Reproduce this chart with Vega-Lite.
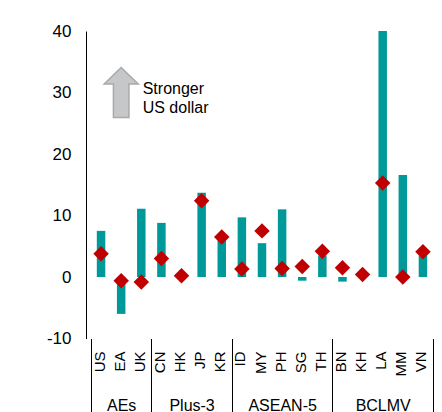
{
  "$schema": "https://vega.github.io/schema/vega-lite/v6.json",
  "width": 352,
  "height": 307.5,
  "autosize": {"type": "none"},
  "padding": {"left": 86, "top": 31, "right": 4, "bottom": 73.5},
  "background": "white",
  "config": {
    "view": {"stroke": null},
    "axis": {"grid": false, "labelFont": "Liberation Sans", "labelColor": "#000"},
    "text": {"font": "Liberation Sans"}
  },
  "datasets": {
    "fx": [
      {"code": "US", "group": "AEs", "i": 0, "bar": 7.5, "dia": 3.8},
      {"code": "EA", "group": "AEs", "i": 1, "bar": -6.0, "dia": -0.6},
      {"code": "UK", "group": "AEs", "i": 2, "bar": 11.1, "dia": -0.8},
      {"code": "CN", "group": "Plus-3", "i": 3, "bar": 8.8, "dia": 3.0},
      {"code": "HK", "group": "Plus-3", "i": 4, "bar": 0.0, "dia": 0.2},
      {"code": "JP", "group": "Plus-3", "i": 5, "bar": 13.7, "dia": 12.4},
      {"code": "KR", "group": "Plus-3", "i": 6, "bar": 6.0, "dia": 6.5},
      {"code": "ID", "group": "ASEAN-5", "i": 7, "bar": 9.7, "dia": 1.3},
      {"code": "MY", "group": "ASEAN-5", "i": 8, "bar": 5.5, "dia": 7.5},
      {"code": "PH", "group": "ASEAN-5", "i": 9, "bar": 11.0, "dia": 1.4},
      {"code": "SG", "group": "ASEAN-5", "i": 10, "bar": -0.6, "dia": 1.7},
      {"code": "TH", "group": "ASEAN-5", "i": 11, "bar": 3.5, "dia": 4.2},
      {"code": "BN", "group": "BCLMV", "i": 12, "bar": -0.75, "dia": 1.5},
      {"code": "KH", "group": "BCLMV", "i": 13, "bar": 0.0, "dia": 0.4},
      {"code": "LA", "group": "BCLMV", "i": 14, "bar": 40.0, "dia": 15.3},
      {"code": "MM", "group": "BCLMV", "i": 15, "bar": 16.6, "dia": 0.0},
      {"code": "VN", "group": "BCLMV", "i": 16, "bar": 3.5, "dia": 4.1}
    ],
    "note": [
      {"x": 1, "y": 30, "tx": 2.07, "ty": 29.8, "label": ["Stronger", "US dollar"]}
    ]
  },
  "layer": [
    {
      "data": {"name": "fx"},
      "mark": {"type": "bar", "size": 8.5, "color": "#009999"},
      "encoding": {
        "x": {
          "field": "i", "type": "quantitative",
          "scale": {"domain": [-0.5, 16.5], "nice": false, "zero": false},
          "axis": {
            "orient": "bottom", "title": null, "values": [0,1,2,3,4,5,6,7,8,9,10,11,12,13,14,15,16],
            "labelExpr": "['US','EA','UK','CN','HK','JP','KR','ID','MY','PH','SG','TH','BN','KH','LA','MM','VN'][datum.value]",
            "labelAngle": -90, "labelAlign": "right", "labelBaseline": "middle",
            "labelPadding": 12.5, "labelOffset": -2, "labelFontSize": 15,
            "ticks": false, "domain": false, "labelFlush": false, "labelOverlap": false, "labelBound": false
          }
        },
        "y": {
          "field": "bar", "type": "quantitative",
          "scale": {"domain": [-10, 40], "nice": false, "zero": false},
          "axis": {
            "title": null, "values": [-10, 0, 10, 20, 30, 40], "ticks": false,
            "labelExpr": "'' + datum.value",
            "domain": true, "domainColor": "#000", "domainWidth": 1,
            "labelPadding": 15, "labelFontSize": 17, "labelOverlap": false
          }
        }
      }
    },
    {
      "mark": {"type": "rule", "color": "#000", "strokeWidth": 1},
      "encoding": {
        "y": {"datum": 0, "type": "quantitative", "axis": null}
      }
    },
    {
      "data": {"name": "fx"},
      "mark": {"type": "point", "shape": "diamond", "filled": true, "size": 240, "color": "#C00000", "opacity": 1},
      "encoding": {
        "x": {
          "field": "i", "type": "quantitative",
          "axis": {
            "orient": "bottom", "title": null, "values": [1, 4.5, 9, 14],
            "labelExpr": "datum.value == 1 ? 'AEs' : datum.value == 4.5 ? 'Plus-3' : datum.value == 9 ? 'ASEAN-5' : 'BCLMV'",
            "labelAngle": 0, "labelAlign": "center", "labelBaseline": "alphabetic",
            "labelPadding": 71.5, "labelFontSize": 16,
            "ticks": false, "domain": false, "labelFlush": false, "labelOverlap": false, "labelBound": false
          }
        },
        "y": {"field": "dia", "type": "quantitative", "axis": null}
      }
    },
    {
      "data": {"name": "note"},
      "mark": {
        "type": "point", "filled": true, "opacity": 1, "size": 2500,
        "shape": "M0,-1L0.68,-0.34L0.31,-0.34L0.31,1L-0.31,1L-0.31,-0.34L-0.68,-0.34Z",
        "fill": "#C6C7C9", "stroke": "#A8A9AB", "strokeWidth": 1.5
      },
      "encoding": {
        "x": {
          "field": "x", "type": "quantitative",
          "axis": {
            "orient": "bottom", "title": null, "values": [-0.5, 2.5, 6.5, 11.5, 16.5],
            "labels": false, "domain": false, "ticks": true, "tickSize": 73.5,
            "tickColor": "#000", "tickWidth": 1
          }
        },
        "y": {"field": "y", "type": "quantitative", "axis": null}
      }
    },
    {
      "data": {"name": "note"},
      "mark": {"type": "text", "align": "left", "baseline": "alphabetic", "fontSize": 16, "lineHeight": 19, "color": "#000"},
      "encoding": {
        "x": {"field": "tx", "type": "quantitative", "axis": null},
        "y": {"field": "ty", "type": "quantitative", "axis": null},
        "text": {"field": "label"}
      }
    }
  ],
  "resolve": {"axis": {"x": "independent", "y": "independent"}}
}
